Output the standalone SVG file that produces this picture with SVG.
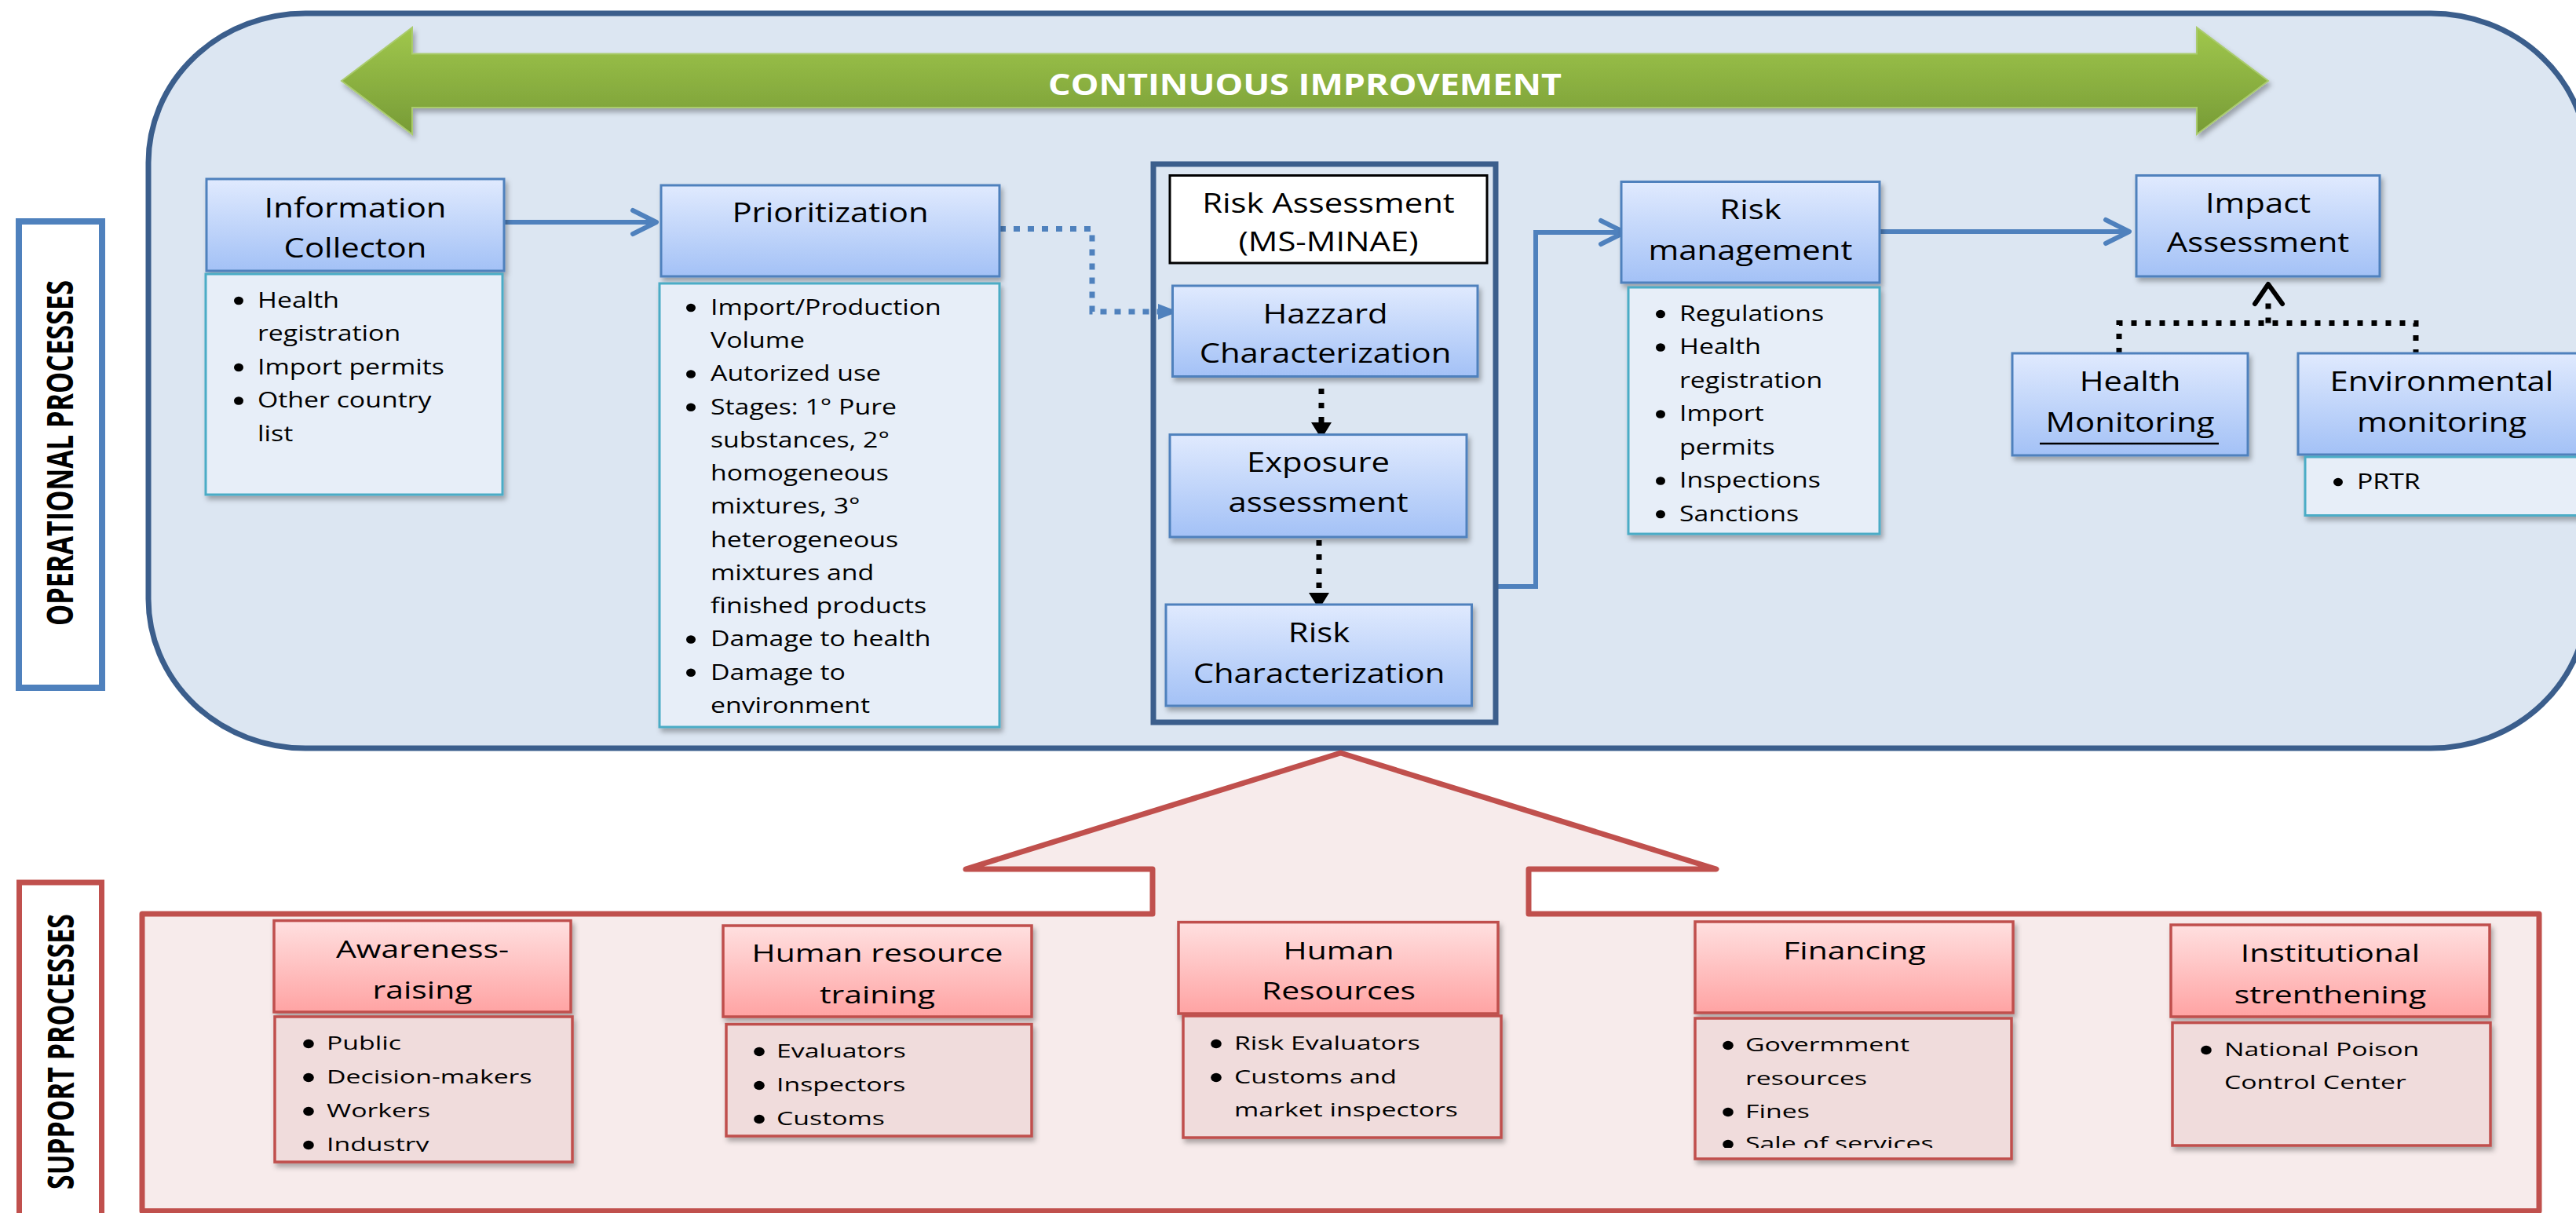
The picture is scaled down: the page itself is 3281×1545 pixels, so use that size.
<svg xmlns="http://www.w3.org/2000/svg" width="3281" height="1545" viewBox="0 0 3281 1545">
<defs>
<linearGradient id="gBlue" x1="0" y1="0" x2="0" y2="1"><stop offset="0" stop-color="#E0EAFE"/><stop offset="1" stop-color="#A3C1F6"/></linearGradient>
<linearGradient id="gRed" x1="0" y1="0" x2="0" y2="1"><stop offset="0" stop-color="#FFE0E0"/><stop offset="1" stop-color="#FFA3A3"/></linearGradient>
<linearGradient id="gGreen" x1="0" y1="0" x2="0" y2="1"><stop offset="0" stop-color="#A0C74C"/><stop offset="1" stop-color="#779B36"/></linearGradient>
<filter id="sh" x="-10%" y="-10%" width="125%" height="140%"><feDropShadow dx="3" dy="5" stdDeviation="3" flood-color="#000" flood-opacity="0.3"/></filter>
<clipPath id="clipA"><rect x="350" y="1295" width="379" height="172"/></clipPath>
<clipPath id="clipF"><rect x="2159" y="1297" width="403" height="165"/></clipPath>
<marker id="openArrow" markerUnits="userSpaceOnUse" markerWidth="40" markerHeight="40" viewBox="-34 -20 40 40" refX="0" refY="0" orient="auto"><path d="M-30,-15 L0,0 L-30,15" fill="none" stroke="#4F81BD" stroke-width="6" stroke-linecap="round" stroke-linejoin="round"/></marker>
<style>
.hu{font-family:"Open Sans","DejaVu Sans",sans-serif;font-size:34px;text-anchor:middle;fill:#000}
.bu{font-family:"Open Sans","DejaVu Sans",sans-serif;font-size:27.5px;fill:#000}
.hl{font-family:"Open Sans","DejaVu Sans",sans-serif;font-size:31px;text-anchor:middle;fill:#000}
.bl{font-family:"Open Sans","DejaVu Sans",sans-serif;font-size:24.5px;fill:#000}
.side{font-family:"Open Sans","DejaVu Sans",sans-serif;font-weight:bold;font-size:47px;text-anchor:middle;fill:#000}
.hdrB{fill:url(#gBlue);stroke:#4F81BD;stroke-width:3;filter:url(#sh)}
.bodyB{fill:#E7EEF8;stroke:#4BACC6;stroke-width:3;filter:url(#sh)}
.hdrR{fill:url(#gRed);stroke:#C0504D;stroke-width:3.5;filter:url(#sh)}
.bodyR{fill:#F0DCDC;stroke:#C0504D;stroke-width:3.5;filter:url(#sh)}
.blt{fill:#000}
.solid{fill:none;stroke:#4F81BD;stroke-width:6}
.dotB{fill:none;stroke:#4F81BD;stroke-width:7;stroke-dasharray:8 10}
.dotK{fill:none;stroke:#000;stroke-width:7;stroke-dasharray:7 11}
</style>
</defs>
<rect width="3281" height="1545" fill="#FFFFFF"/>

<!-- Operational container -->
<g id="operational-area">
<rect x="189" y="17" width="3107" height="936" rx="200" ry="190" fill="#DCE6F2" stroke="#3B5E8C" stroke-width="7"/>
</g>
<g id="label-operational">
<rect x="24" y="282" width="106" height="594" fill="#FFFFFF" stroke="#4F81BD" stroke-width="8"/>
<text class="side" transform="translate(93,577) rotate(-90)" textLength="440" lengthAdjust="spacingAndGlyphs">OPERATIONAL  PROCESSES</text>
</g>

<!-- Continuous improvement arrow -->
<g id="continuous-improvement">
<polygon points="435,103 525,35 525,68.5 2798,68.5 2798,35 2889,103 2798,171 2798,137 525,137 525,171" fill="url(#gGreen)" stroke="#AACB6E" stroke-width="2" filter="url(#sh)"/>
<text transform="translate(1662,121)" font-family="'Open Sans','DejaVu Sans',sans-serif" font-weight="bold" font-size="37" fill="#FFFFFF" text-anchor="middle" textLength="654" lengthAdjust="spacingAndGlyphs">CONTINUOUS IMPROVEMENT</text>
</g>

<!-- Support area -->
<g id="support-area">
<path d="M181,1164 H1468 V1107 H1230 L1707.5,959 L2186,1107 H1947 V1164 H3234 V1542.5 H181 Z" fill="#F7EBEB" stroke="#C0504D" stroke-width="7" stroke-linejoin="round"/>
</g>
<g id="label-support">
<rect x="24.5" y="1124" width="105" height="460" fill="#FFFFFF" stroke="#C0504D" stroke-width="7"/>
<text class="side" transform="translate(94,1339.5) rotate(-90)" textLength="351" lengthAdjust="spacingAndGlyphs">SUPPORT PROCESSES</text>
</g>

<!-- Connectors -->
<g id="connectors">
<path class="solid" d="M642,283 H836" marker-end="url(#openArrow)"/>
<path class="dotB" d="M1273,291.5 H1391 V397 H1478"/>
<polygon points="1475,387 1501,397 1475,407" fill="#4F81BD"/>
<path class="dotK" d="M1683,495 V538"/>
<polygon points="1670,538 1696,538 1683,559" fill="#000"/>
<path class="dotK" d="M1680,688 V756"/>
<polygon points="1667,755 1693,755 1680,776" fill="#000"/>
<path class="solid" d="M1908,747 H1956 V296 H2069" marker-end="url(#openArrow)"/>
<path class="solid" d="M2394,295 H2712" marker-end="url(#openArrow)"/>
<path class="dotK" d="M2699,450 V411.5 H3077 V450"/>
<path class="dotK" d="M2889,411.5 V378"/>
<path d="M2872,387 L2889,362 L2907,387" fill="none" stroke="#000" stroke-width="6" stroke-linecap="round" stroke-linejoin="round"/>
</g>

<!-- Information Collection -->
<g id="node-information-collection">
<rect class="hdrB" x="263" y="228" width="379" height="117"/>
<g transform="translate(452.5,0) scale(1.23,1)"><text class="hu" y="277">Information</text><text class="hu" y="328">Collecton</text></g>
<rect class="bodyB" x="262" y="349" width="378" height="281"/>
<ellipse class="blt" cx="304" cy="383" rx="6" ry="5.3"/><ellipse class="blt" cx="304" cy="468" rx="6" ry="5.3"/><ellipse class="blt" cx="304" cy="510.5" rx="6" ry="5.3"/>
<g transform="translate(328,0) scale(1.23,1)">
<text class="bu" y="392">Health</text><text class="bu" y="434.5">registration</text><text class="bu" y="477">Import permits</text><text class="bu" y="519.5">Other country</text><text class="bu" y="562">list</text>
</g>
</g>

<!-- Prioritization -->
<g id="node-prioritization">
<rect class="hdrB" x="842" y="236" width="431" height="116"/>
<g transform="translate(1057.5,0) scale(1.23,1)"><text class="hu" y="283">Prioritization</text></g>
<rect class="bodyB" x="840" y="361" width="433" height="565"/>
<ellipse class="blt" cx="880" cy="392" rx="6" ry="5.3"/><ellipse class="blt" cx="880" cy="476.5" rx="6" ry="5.3"/><ellipse class="blt" cx="880" cy="518.75" rx="6" ry="5.3"/><ellipse class="blt" cx="880" cy="814.5" rx="6" ry="5.3"/><ellipse class="blt" cx="880" cy="856.75" rx="6" ry="5.3"/>
<g transform="translate(905,0) scale(1.23,1)">
<text class="bu" y="401">Import/Production</text>
<text class="bu" y="443.25">Volume</text>
<text class="bu" y="485.5">Autorized use</text>
<text class="bu" y="527.75">Stages: 1° Pure</text>
<text class="bu" y="570">substances, 2°</text>
<text class="bu" y="612.25">homogeneous</text>
<text class="bu" y="654.5">mixtures, 3°</text>
<text class="bu" y="696.75">heterogeneous</text>
<text class="bu" y="739">mixtures and</text>
<text class="bu" y="781.25">finished products</text>
<text class="bu" y="823.5">Damage to health</text>
<text class="bu" y="865.75">Damage to</text>
<text class="bu" y="908">environment</text>
</g>
</g>

<!-- Risk Assessment group -->
<g id="node-risk-assessment">
<rect x="1469" y="209" width="436" height="711" fill="none" stroke="#3B5E8C" stroke-width="7"/>
<rect x="1490" y="223.5" width="404" height="111.5" fill="#FFFFFF" stroke="#000" stroke-width="3"/>
<g transform="translate(1692,0) scale(1.23,1)"><text class="hu" y="271">Risk Assessment</text><text class="hu" y="320">(MS-MINAE)</text></g>
</g>
<g id="node-hazard-characterization">
<rect class="hdrB" x="1493.5" y="364" width="388.5" height="115.5"/>
<g transform="translate(1688,0) scale(1.23,1)"><text class="hu" y="412">Hazzard</text><text class="hu" y="462">Characterization</text></g>
</g>
<g id="node-exposure-assessment">
<rect class="hdrB" x="1490" y="553.6" width="378" height="130.4"/>
<g transform="translate(1679,0) scale(1.23,1)"><text class="hu" y="601">Exposure</text><text class="hu" y="652">assessment</text></g>
</g>
<g id="node-risk-characterization">
<rect class="hdrB" x="1485" y="770" width="389.5" height="129"/>
<g transform="translate(1680,0) scale(1.23,1)"><text class="hu" y="818">Risk</text><text class="hu" y="870">Characterization</text></g>
</g>

<!-- Risk management -->
<g id="node-risk-management">
<rect class="hdrB" x="2065" y="231.5" width="329" height="128.5"/>
<g transform="translate(2229.5,0) scale(1.23,1)"><text class="hu" y="279">Risk</text><text class="hu" y="331">management</text></g>
<rect class="bodyB" x="2074" y="366" width="320" height="314"/>
<ellipse class="blt" cx="2115" cy="400" rx="6" ry="5.3"/><ellipse class="blt" cx="2115" cy="442.5" rx="6" ry="5.3"/><ellipse class="blt" cx="2115" cy="527.5" rx="6" ry="5.3"/><ellipse class="blt" cx="2115" cy="612.5" rx="6" ry="5.3"/><ellipse class="blt" cx="2115" cy="655" rx="6" ry="5.3"/>
<g transform="translate(2139,0) scale(1.23,1)">
<text class="bu" y="409">Regulations</text><text class="bu" y="451.5">Health</text><text class="bu" y="494">registration</text><text class="bu" y="536.5">Import</text><text class="bu" y="579">permits</text><text class="bu" y="621.5">Inspections</text><text class="bu" y="664">Sanctions</text>
</g>
</g>

<!-- Impact Assessment -->
<g id="node-impact-assessment">
<rect class="hdrB" x="2721" y="223.5" width="310" height="128.5"/>
<g transform="translate(2876,0) scale(1.23,1)"><text class="hu" y="271">Impact</text><text class="hu" y="321.5">Assessment</text></g>
</g>

<!-- Health Monitoring -->
<g id="node-health-monitoring">
<rect class="hdrB" x="2563" y="450" width="300" height="130"/>
<g transform="translate(2713,0) scale(1.23,1)"><text class="hu" y="498">Health</text><text class="hu" y="550">Monitoring</text></g>
<line x1="2598" y1="565" x2="2826" y2="565" stroke="#000" stroke-width="2.5"/>
</g>

<!-- Environmental monitoring -->
<g id="node-environmental-monitoring">
<rect class="hdrB" x="2927" y="450" width="370" height="129"/>
<g transform="translate(3110,0) scale(1.23,1)"><text class="hu" y="498">Environmental</text><text class="hu" y="550">monitoring</text></g>
<rect class="bodyB" x="2936" y="582" width="360" height="74.5"/>
<ellipse class="blt" cx="2978" cy="614" rx="6" ry="5.3"/>
<g transform="translate(3002,0) scale(1.23,1)"><text class="bu" y="623">PRTR</text></g>
</g>

<!-- Support nodes -->
<g id="node-awareness-raising">
<rect class="hdrR" x="349" y="1172.6" width="378" height="116.4"/>
<g transform="translate(538,0) scale(1.32,1)"><text class="hl" y="1220">Awareness-</text><text class="hl" y="1272">raising</text></g>
<rect class="bodyR" x="350" y="1295" width="379" height="185"/>
<ellipse class="blt" cx="393" cy="1329.5" rx="6.8" ry="5.8"/><ellipse class="blt" cx="393" cy="1372.5" rx="6.8" ry="5.8"/><ellipse class="blt" cx="393" cy="1415.5" rx="6.8" ry="5.8"/>
<g clip-path="url(#clipA)">
<ellipse class="blt" cx="393" cy="1458.5" rx="6.8" ry="5.8"/>
<g transform="translate(416,0) scale(1.38,1)">
<text class="bl" y="1337">Public</text><text class="bl" y="1380">Decision-makers</text><text class="bl" y="1423">Workers</text><text class="bl" y="1466">Industry</text>
</g>
</g>
</g>

<g id="node-human-resource-training">
<rect class="hdrR" x="921" y="1179" width="393" height="116"/>
<g transform="translate(1117.5,0) scale(1.32,1)"><text class="hl" y="1225.5">Human resource</text><text class="hl" y="1277.6">training</text></g>
<rect class="bodyR" x="925" y="1304.6" width="389" height="142.4"/>
<ellipse class="blt" cx="967" cy="1339.5" rx="6.8" ry="5.8"/><ellipse class="blt" cx="967" cy="1382.5" rx="6.8" ry="5.8"/><ellipse class="blt" cx="967" cy="1425.5" rx="6.8" ry="5.8"/>
<g transform="translate(989,0) scale(1.38,1)">
<text class="bl" y="1347">Evaluators</text><text class="bl" y="1390">Inspectors</text><text class="bl" y="1433">Customs</text>
</g>
</g>

<g id="node-human-resources">
<rect class="hdrR" x="1501" y="1174.6" width="407" height="116.4"/>
<g transform="translate(1705,0) scale(1.32,1)"><text class="hl" y="1221.6">Human</text><text class="hl" y="1272.6">Resources</text></g>
<rect class="bodyR" x="1507" y="1294" width="405" height="155"/>
<ellipse class="blt" cx="1549" cy="1329.5" rx="6.8" ry="5.8"/><ellipse class="blt" cx="1549" cy="1372.5" rx="6.8" ry="5.8"/>
<g transform="translate(1572,0) scale(1.38,1)">
<text class="bl" y="1337">Risk Evaluators</text><text class="bl" y="1380">Customs and</text><text class="bl" y="1422">market inspectors</text>
</g>
</g>

<g id="node-financing">
<rect class="hdrR" x="2159" y="1174" width="405" height="116"/>
<g transform="translate(2362,0) scale(1.32,1)"><text class="hl" y="1221.6">Financing</text></g>
<rect class="bodyR" x="2159" y="1297" width="403" height="179"/>
<ellipse class="blt" cx="2201" cy="1331.5" rx="6.8" ry="5.8"/><ellipse class="blt" cx="2201" cy="1416.5" rx="6.8" ry="5.8"/>
<g clip-path="url(#clipF)">
<ellipse class="blt" cx="2201" cy="1457.5" rx="6.8" ry="5.8"/>
<g transform="translate(2223,0) scale(1.38,1)">
<text class="bl" y="1339">Govermment</text><text class="bl" y="1382">resources</text><text class="bl" y="1424">Fines</text><text class="bl" y="1465">Sale of services</text>
</g>
</g>
</g>

<g id="node-institutional-strengthening">
<rect class="hdrR" x="2765" y="1178" width="406" height="117"/>
<g transform="translate(2968,0) scale(1.32,1)"><text class="hl" y="1225.5">Institutional</text><text class="hl" y="1277.6">strenthening</text></g>
<rect class="bodyR" x="2767" y="1302.6" width="405" height="156.4"/>
<ellipse class="blt" cx="2810" cy="1337.5" rx="6.8" ry="5.8"/>
<g transform="translate(2833,0) scale(1.38,1)">
<text class="bl" y="1345">National Poison</text><text class="bl" y="1387.5">Control Center</text>
</g>
</g>
</svg>
